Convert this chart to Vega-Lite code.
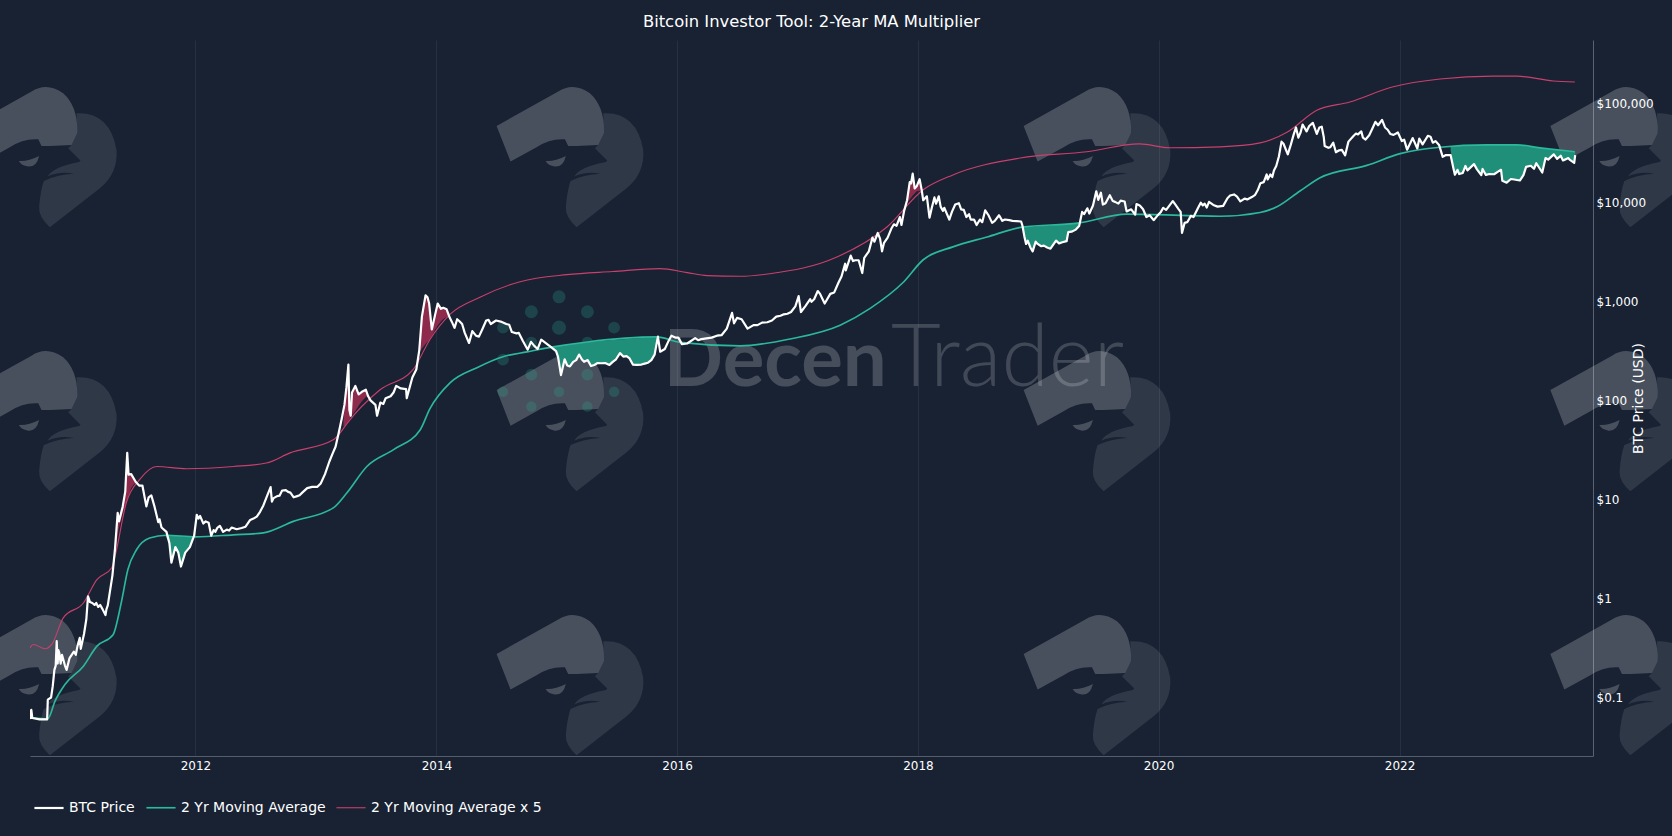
{"$schema":"https://vega.github.io/schema/vega-lite/v6.json","width":1563,"height":716,"autosize":{"type":"none"},"padding":{"left":30,"top":40,"right":79,"bottom":80},"background":"#182233",
"title":{"text":"Bitcoin Investor Tool: 2-Year MA Multiplier","color":"#ffffff","font":"DejaVu Sans","fontSize":16.4,"fontWeight":"normal","anchor":"middle","offset":10},
"config":{"view":{"stroke":null},"font":"DejaVu Sans"},
"datasets":{
"logos":[{"date":"2010-09-26","value":28970},{"date":"2015-02-10","value":28970},{"date":"2019-06-28","value":28970},{"date":"2023-11-12","value":28970},{"date":"2010-09-26","value":62.4},{"date":"2015-02-10","value":62.4},{"date":"2019-06-28","value":62.4},{"date":"2023-11-12","value":62.4},{"date":"2010-09-26","value":0.135},{"date":"2015-02-10","value":0.135},{"date":"2019-06-28","value":0.135},{"date":"2023-11-12","value":0.135}],
"dots":[{"date":"2015-01-08","value":1112,"tier":"b"},{"date":"2014-10-16","value":785,"tier":"b"},{"date":"2015-04-04","value":785,"tier":"b"},{"date":"2015-01-08","value":542,"tier":"a"},{"date":"2015-06-24","value":542,"tier":"c"},{"date":"2014-07-22","value":542,"tier":"c"},{"date":"2015-04-04","value":382,"tier":"c"},{"date":"2014-10-16","value":382,"tier":"c"},{"date":"2014-07-22","value":258,"tier":"c"},{"date":"2014-10-16","value":182,"tier":"c"},{"date":"2015-04-04","value":182,"tier":"c"},{"date":"2014-07-22","value":122,"tier":"d"},{"date":"2015-01-08","value":122,"tier":"d"},{"date":"2015-06-24","value":122,"tier":"d"},{"date":"2014-10-16","value":86.5,"tier":"d"},{"date":"2015-04-04","value":86.5,"tier":"d"}],
"ma":[{"date":"2010-08-27","value":0.0624},{"date":"2010-10-10","value":0.061},{"date":"2010-11-01","value":0.092},{"date":"2010-12-01","value":0.135},{"date":"2011-01-26","value":0.207},{"date":"2011-03-08","value":0.33},{"date":"2011-04-26","value":0.43},{"date":"2011-05-21","value":0.91},{"date":"2011-06-10","value":1.96},{"date":"2011-07-06","value":3.1},{"date":"2011-08-15","value":4.08},{"date":"2011-10-05","value":4.35},{"date":"2012-01-01","value":4.19},{"date":"2012-04-25","value":4.39},{"date":"2012-07-25","value":4.59},{"date":"2012-10-24","value":6.0},{"date":"2013-02-22","value":8.2},{"date":"2013-04-04","value":11.6},{"date":"2013-06-04","value":21.5},{"date":"2013-08-24","value":31.8},{"date":"2013-11-13","value":50.6},{"date":"2013-12-12","value":82},{"date":"2014-02-12","value":151},{"date":"2014-05-04","value":214},{"date":"2014-07-22","value":276},{"date":"2014-10-03","value":309},{"date":"2014-12-21","value":347},{"date":"2015-04-04","value":389},{"date":"2015-10-31","value":437},{"date":"2016-01-10","value":385},{"date":"2016-07-10","value":355},{"date":"2016-12-09","value":417},{"date":"2017-05-10","value":575},{"date":"2017-08-09","value":850},{"date":"2017-11-16","value":1540},{"date":"2018-01-17","value":2630},{"date":"2018-04-17","value":3550},{"date":"2018-07-30","value":4470},{"date":"2018-11-13","value":5620},{"date":"2019-05-01","value":6170},{"date":"2019-09-27","value":7590},{"date":"2020-07-06","value":7240},{"date":"2020-11-04","value":7900},{"date":"2020-12-25","value":9000},{"date":"2021-03-05","value":13000},{"date":"2021-05-05","value":17700},{"date":"2021-09-24","value":23600},{"date":"2022-01-03","value":31000},{"date":"2022-05-04","value":36000},{"date":"2022-09-23","value":38000},{"date":"2022-12-23","value":38000},{"date":"2023-03-03","value":35500},{"date":"2023-06-17","value":32400}],
"ma5":[{"date":"2010-08-17","value":0.317},{"date":"2010-08-27","value":0.343},{"date":"2010-10-02","value":0.31},{"date":"2010-10-22","value":0.343},{"date":"2010-11-26","value":0.637},{"date":"2011-01-26","value":0.9},{"date":"2011-03-08","value":1.55},{"date":"2011-04-22","value":2.04},{"date":"2011-05-02","value":2.67},{"date":"2011-06-05","value":9.2},{"date":"2011-07-16","value":15.9},{"date":"2011-09-06","value":21.5},{"date":"2011-12-05","value":20.4},{"date":"2012-04-25","value":21.5},{"date":"2012-08-03","value":23.3},{"date":"2012-10-14","value":29.5},{"date":"2013-02-22","value":40},{"date":"2013-03-15","value":47},{"date":"2013-04-04","value":58},{"date":"2013-07-14","value":128},{"date":"2013-10-22","value":204},{"date":"2013-12-12","value":410},{"date":"2014-02-12","value":743},{"date":"2014-05-13","value":1100},{"date":"2014-09-12","value":1580},{"date":"2015-02-01","value":1860},{"date":"2015-06-20","value":2000},{"date":"2015-11-10","value":2140},{"date":"2016-02-01","value":1950},{"date":"2016-04-01","value":1820},{"date":"2016-07-10","value":1790},{"date":"2016-10-08","value":1900},{"date":"2017-04-30","value":2800},{"date":"2017-09-28","value":5600},{"date":"2018-01-17","value":13400},{"date":"2018-04-17","value":18900},{"date":"2018-11-07","value":28000},{"date":"2019-05-28","value":32400},{"date":"2019-11-04","value":38900},{"date":"2020-02-04","value":35500},{"date":"2020-07-06","value":36300},{"date":"2020-11-04","value":39800},{"date":"2021-01-26","value":51300},{"date":"2021-04-25","value":85000},{"date":"2021-08-03","value":103000},{"date":"2021-12-10","value":146000},{"date":"2022-05-04","value":176000},{"date":"2022-10-12","value":188000},{"date":"2022-12-23","value":188000},{"date":"2023-04-12","value":168000},{"date":"2023-06-17","value":164000}],
"price":[{"date":"2010-08-17","value":0.075},{"date":"2010-08-19","value":0.062},{"date":"2010-08-21","value":0.075},{"date":"2010-08-24","value":0.062},{"date":"2010-09-15","value":0.06},{"date":"2010-10-08","value":0.06},{"date":"2010-10-10","value":0.095},{"date":"2010-10-20","value":0.1},{"date":"2010-10-25","value":0.13},{"date":"2010-10-30","value":0.19},{"date":"2010-11-03","value":0.21},{"date":"2010-11-06","value":0.37},{"date":"2010-11-09","value":0.22},{"date":"2010-11-11","value":0.3},{"date":"2010-11-14","value":0.28},{"date":"2010-11-18","value":0.22},{"date":"2010-11-22","value":0.27},{"date":"2010-12-01","value":0.21},{"date":"2010-12-06","value":0.19},{"date":"2010-12-15","value":0.25},{"date":"2010-12-28","value":0.29},{"date":"2011-01-03","value":0.27},{"date":"2011-01-08","value":0.33},{"date":"2011-01-15","value":0.4},{"date":"2011-01-18","value":0.31},{"date":"2011-01-28","value":0.44},{"date":"2011-02-04","value":0.62},{"date":"2011-02-09","value":1.05},{"date":"2011-02-15","value":0.92},{"date":"2011-02-22","value":0.9},{"date":"2011-03-01","value":0.86},{"date":"2011-03-06","value":0.9},{"date":"2011-03-12","value":0.82},{"date":"2011-03-18","value":0.86},{"date":"2011-03-25","value":0.78},{"date":"2011-04-03","value":0.68},{"date":"2011-04-06","value":0.78},{"date":"2011-04-10","value":0.85},{"date":"2011-04-24","value":1.7},{"date":"2011-05-02","value":3.2},{"date":"2011-05-10","value":7.3},{"date":"2011-05-14","value":6.0},{"date":"2011-05-25","value":8.4},{"date":"2011-06-02","value":12},{"date":"2011-06-08","value":29.5},{"date":"2011-06-12","value":17.8},{"date":"2011-06-20","value":18},{"date":"2011-07-04","value":15},{"date":"2011-07-14","value":13.8},{"date":"2011-07-24","value":13.8},{"date":"2011-08-05","value":8.5},{"date":"2011-08-12","value":10.5},{"date":"2011-08-20","value":11},{"date":"2011-08-30","value":8.4},{"date":"2011-09-10","value":5.9},{"date":"2011-09-14","value":6.3},{"date":"2011-09-20","value":5.2},{"date":"2011-10-05","value":4.7},{"date":"2011-10-14","value":3.6},{"date":"2011-10-20","value":2.3},{"date":"2011-11-01","value":3.3},{"date":"2011-11-10","value":2.9},{"date":"2011-11-18","value":2.1},{"date":"2011-12-01","value":2.9},{"date":"2011-12-15","value":3.3},{"date":"2011-12-28","value":4.3},{"date":"2012-01-05","value":7},{"date":"2012-01-10","value":6.4},{"date":"2012-01-15","value":6.8},{"date":"2012-01-25","value":5.7},{"date":"2012-02-01","value":6},{"date":"2012-02-10","value":5.8},{"date":"2012-02-18","value":4.3},{"date":"2012-02-25","value":4.9},{"date":"2012-03-01","value":4.7},{"date":"2012-03-08","value":5.2},{"date":"2012-03-15","value":5.4},{"date":"2012-03-25","value":4.7},{"date":"2012-04-05","value":4.95},{"date":"2012-04-12","value":4.85},{"date":"2012-04-20","value":5.2},{"date":"2012-05-05","value":5.0},{"date":"2012-05-20","value":5.15},{"date":"2012-06-01","value":5.3},{"date":"2012-06-15","value":6.2},{"date":"2012-06-25","value":6.4},{"date":"2012-07-05","value":6.7},{"date":"2012-07-15","value":7.5},{"date":"2012-07-25","value":8.7},{"date":"2012-08-05","value":10.8},{"date":"2012-08-16","value":13.3},{"date":"2012-08-20","value":9.5},{"date":"2012-08-25","value":10.3},{"date":"2012-09-05","value":10.8},{"date":"2012-09-12","value":10.9},{"date":"2012-09-20","value":12.3},{"date":"2012-10-01","value":12.4},{"date":"2012-10-08","value":11.9},{"date":"2012-10-15","value":11.7},{"date":"2012-10-25","value":10.5},{"date":"2012-11-05","value":10.8},{"date":"2012-11-12","value":11},{"date":"2012-11-20","value":11.7},{"date":"2012-12-05","value":13.0},{"date":"2012-12-20","value":13.4},{"date":"2013-01-05","value":13.4},{"date":"2013-01-15","value":14.5},{"date":"2013-01-28","value":18},{"date":"2013-02-10","value":24},{"date":"2013-02-20","value":29},{"date":"2013-03-01","value":34},{"date":"2013-03-10","value":46},{"date":"2013-03-20","value":66},{"date":"2013-03-28","value":90},{"date":"2013-04-03","value":135},{"date":"2013-04-09","value":230},{"date":"2013-04-12","value":80},{"date":"2013-04-16","value":70},{"date":"2013-04-20","value":120},{"date":"2013-04-30","value":140},{"date":"2013-05-10","value":115},{"date":"2013-05-20","value":122},{"date":"2013-06-01","value":128},{"date":"2013-06-08","value":110},{"date":"2013-06-15","value":100},{"date":"2013-06-30","value":90},{"date":"2013-07-05","value":70},{"date":"2013-07-15","value":95},{"date":"2013-07-24","value":92},{"date":"2013-07-31","value":105},{"date":"2013-08-15","value":110},{"date":"2013-08-24","value":120},{"date":"2013-09-01","value":140},{"date":"2013-09-15","value":132},{"date":"2013-10-01","value":130},{"date":"2013-10-03","value":105},{"date":"2013-10-20","value":170},{"date":"2013-11-01","value":205},{"date":"2013-11-10","value":320},{"date":"2013-11-18","value":700},{"date":"2013-11-29","value":1150},{"date":"2013-12-05","value":1100},{"date":"2013-12-10","value":950},{"date":"2013-12-18","value":520},{"date":"2013-12-28","value":730},{"date":"2014-01-05","value":950},{"date":"2014-01-15","value":840},{"date":"2014-01-22","value":860},{"date":"2014-02-01","value":830},{"date":"2014-02-10","value":690},{"date":"2014-02-17","value":620},{"date":"2014-02-25","value":540},{"date":"2014-03-05","value":660},{"date":"2014-03-12","value":630},{"date":"2014-03-20","value":590},{"date":"2014-03-28","value":480},{"date":"2014-04-10","value":380},{"date":"2014-04-20","value":500},{"date":"2014-05-01","value":450},{"date":"2014-05-10","value":440},{"date":"2014-05-20","value":520},{"date":"2014-06-01","value":640},{"date":"2014-06-08","value":650},{"date":"2014-06-15","value":590},{"date":"2014-07-01","value":640},{"date":"2014-07-15","value":625},{"date":"2014-08-01","value":590},{"date":"2014-08-10","value":580},{"date":"2014-08-18","value":490},{"date":"2014-09-01","value":475},{"date":"2014-09-08","value":480},{"date":"2014-09-20","value":400},{"date":"2014-10-05","value":325},{"date":"2014-10-15","value":390},{"date":"2014-10-25","value":355},{"date":"2014-11-04","value":330},{"date":"2014-11-15","value":410},{"date":"2014-12-01","value":375},{"date":"2014-12-15","value":345},{"date":"2014-12-30","value":315},{"date":"2015-01-05","value":275},{"date":"2015-01-14","value":180},{"date":"2015-01-25","value":260},{"date":"2015-02-02","value":225},{"date":"2015-02-10","value":220},{"date":"2015-02-20","value":245},{"date":"2015-03-01","value":255},{"date":"2015-03-10","value":290},{"date":"2015-03-18","value":260},{"date":"2015-03-25","value":245},{"date":"2015-04-05","value":255},{"date":"2015-04-15","value":222},{"date":"2015-04-25","value":228},{"date":"2015-05-05","value":238},{"date":"2015-05-15","value":237},{"date":"2015-05-28","value":238},{"date":"2015-06-10","value":228},{"date":"2015-06-20","value":245},{"date":"2015-06-30","value":260},{"date":"2015-07-12","value":300},{"date":"2015-07-22","value":277},{"date":"2015-08-01","value":280},{"date":"2015-08-10","value":265},{"date":"2015-08-20","value":230},{"date":"2015-09-01","value":228},{"date":"2015-09-15","value":230},{"date":"2015-09-25","value":235},{"date":"2015-10-05","value":240},{"date":"2015-10-15","value":255},{"date":"2015-10-25","value":290},{"date":"2015-11-04","value":440},{"date":"2015-11-11","value":310},{"date":"2015-11-25","value":330},{"date":"2015-12-05","value":390},{"date":"2015-12-15","value":450},{"date":"2015-12-28","value":430},{"date":"2016-01-05","value":430},{"date":"2016-01-16","value":370},{"date":"2016-02-01","value":375},{"date":"2016-02-25","value":425},{"date":"2016-03-05","value":405},{"date":"2016-03-15","value":415},{"date":"2016-04-15","value":430},{"date":"2016-05-01","value":450},{"date":"2016-05-15","value":455},{"date":"2016-05-31","value":530},{"date":"2016-06-16","value":765},{"date":"2016-06-22","value":600},{"date":"2016-07-01","value":680},{"date":"2016-07-15","value":660},{"date":"2016-08-02","value":530},{"date":"2016-08-20","value":575},{"date":"2016-09-01","value":575},{"date":"2016-09-15","value":610},{"date":"2016-10-01","value":615},{"date":"2016-10-15","value":640},{"date":"2016-10-28","value":700},{"date":"2016-11-10","value":715},{"date":"2016-11-20","value":740},{"date":"2016-12-01","value":750},{"date":"2016-12-12","value":780},{"date":"2016-12-25","value":890},{"date":"2017-01-04","value":1130},{"date":"2017-01-11","value":780},{"date":"2017-01-25","value":900},{"date":"2017-02-08","value":1050},{"date":"2017-02-12","value":990},{"date":"2017-02-20","value":1050},{"date":"2017-03-03","value":1270},{"date":"2017-03-10","value":1190},{"date":"2017-03-17","value":1060},{"date":"2017-03-24","value":950},{"date":"2017-04-10","value":1190},{"date":"2017-04-22","value":1230},{"date":"2017-05-05","value":1550},{"date":"2017-05-14","value":1780},{"date":"2017-05-25","value":2400},{"date":"2017-05-27","value":2050},{"date":"2017-06-11","value":2900},{"date":"2017-06-18","value":2550},{"date":"2017-06-25","value":2600},{"date":"2017-07-05","value":2600},{"date":"2017-07-16","value":1930},{"date":"2017-07-22","value":2750},{"date":"2017-08-05","value":3200},{"date":"2017-08-16","value":4400},{"date":"2017-08-22","value":4000},{"date":"2017-09-01","value":4900},{"date":"2017-09-08","value":4300},{"date":"2017-09-14","value":3200},{"date":"2017-09-20","value":3900},{"date":"2017-10-01","value":4400},{"date":"2017-10-12","value":5400},{"date":"2017-10-20","value":6000},{"date":"2017-10-28","value":5800},{"date":"2017-11-07","value":7100},{"date":"2017-11-12","value":5900},{"date":"2017-11-20","value":8200},{"date":"2017-11-29","value":10500},{"date":"2017-12-07","value":16000},{"date":"2017-12-11","value":15500},{"date":"2017-12-16","value":19500},{"date":"2017-12-22","value":13800},{"date":"2017-12-28","value":14500},{"date":"2018-01-06","value":17100},{"date":"2018-01-12","value":13500},{"date":"2018-01-17","value":10500},{"date":"2018-01-28","value":11500},{"date":"2018-02-05","value":7000},{"date":"2018-02-12","value":8800},{"date":"2018-02-20","value":11200},{"date":"2018-02-25","value":9700},{"date":"2018-03-05","value":11500},{"date":"2018-03-11","value":9000},{"date":"2018-03-18","value":8200},{"date":"2018-03-22","value":8800},{"date":"2018-04-06","value":6700},{"date":"2018-04-14","value":8000},{"date":"2018-04-24","value":9500},{"date":"2018-05-05","value":9800},{"date":"2018-05-12","value":8500},{"date":"2018-05-20","value":8400},{"date":"2018-05-28","value":7100},{"date":"2018-06-05","value":7600},{"date":"2018-06-10","value":6700},{"date":"2018-06-20","value":6700},{"date":"2018-06-28","value":5900},{"date":"2018-07-08","value":6700},{"date":"2018-07-15","value":6300},{"date":"2018-07-24","value":8300},{"date":"2018-08-03","value":7400},{"date":"2018-08-14","value":6200},{"date":"2018-08-22","value":6500},{"date":"2018-09-04","value":7400},{"date":"2018-09-14","value":6500},{"date":"2018-09-22","value":6700},{"date":"2018-10-05","value":6600},{"date":"2018-10-15","value":6500},{"date":"2018-10-28","value":6450},{"date":"2018-11-10","value":6400},{"date":"2018-11-14","value":5800},{"date":"2018-11-20","value":4500},{"date":"2018-11-25","value":3800},{"date":"2018-11-30","value":4100},{"date":"2018-12-08","value":3500},{"date":"2018-12-15","value":3200},{"date":"2018-12-24","value":4000},{"date":"2018-12-30","value":3800},{"date":"2019-01-10","value":3600},{"date":"2019-01-18","value":3650},{"date":"2019-01-28","value":3500},{"date":"2019-02-07","value":3400},{"date":"2019-02-24","value":4100},{"date":"2019-03-05","value":3850},{"date":"2019-03-15","value":3950},{"date":"2019-03-28","value":4050},{"date":"2019-04-02","value":5000},{"date":"2019-04-12","value":5050},{"date":"2019-04-25","value":5300},{"date":"2019-05-05","value":5750},{"date":"2019-05-14","value":8000},{"date":"2019-05-20","value":7600},{"date":"2019-05-30","value":8700},{"date":"2019-06-05","value":7700},{"date":"2019-06-16","value":9300},{"date":"2019-06-26","value":12900},{"date":"2019-07-02","value":10600},{"date":"2019-07-10","value":12500},{"date":"2019-07-16","value":9500},{"date":"2019-07-24","value":9800},{"date":"2019-08-06","value":11800},{"date":"2019-08-15","value":10300},{"date":"2019-08-22","value":10100},{"date":"2019-09-01","value":9700},{"date":"2019-09-08","value":10400},{"date":"2019-09-20","value":10200},{"date":"2019-09-26","value":8100},{"date":"2019-10-10","value":8500},{"date":"2019-10-22","value":7500},{"date":"2019-10-26","value":9600},{"date":"2019-11-05","value":9300},{"date":"2019-11-15","value":8500},{"date":"2019-11-25","value":7100},{"date":"2019-12-05","value":7400},{"date":"2019-12-17","value":6600},{"date":"2019-12-28","value":7300},{"date":"2020-01-08","value":8000},{"date":"2020-01-15","value":8800},{"date":"2020-01-24","value":8400},{"date":"2020-02-13","value":10300},{"date":"2020-02-20","value":9600},{"date":"2020-03-01","value":8600},{"date":"2020-03-08","value":8000},{"date":"2020-03-12","value":4900},{"date":"2020-03-20","value":6200},{"date":"2020-03-28","value":6300},{"date":"2020-04-08","value":7300},{"date":"2020-04-16","value":7100},{"date":"2020-04-30","value":8800},{"date":"2020-05-08","value":9900},{"date":"2020-05-14","value":9300},{"date":"2020-05-20","value":9700},{"date":"2020-05-26","value":8850},{"date":"2020-06-02","value":10100},{"date":"2020-06-15","value":9400},{"date":"2020-06-28","value":9050},{"date":"2020-07-15","value":9200},{"date":"2020-07-28","value":11000},{"date":"2020-08-05","value":11700},{"date":"2020-08-17","value":12000},{"date":"2020-08-26","value":11400},{"date":"2020-09-05","value":10200},{"date":"2020-09-18","value":10900},{"date":"2020-09-26","value":10700},{"date":"2020-10-10","value":11300},{"date":"2020-10-20","value":11900},{"date":"2020-10-28","value":13300},{"date":"2020-11-05","value":15600},{"date":"2020-11-15","value":16000},{"date":"2020-11-24","value":19100},{"date":"2020-11-27","value":17000},{"date":"2020-12-05","value":19100},{"date":"2020-12-11","value":18000},{"date":"2020-12-16","value":21000},{"date":"2020-12-23","value":23300},{"date":"2020-12-31","value":29000},{"date":"2021-01-08","value":41000},{"date":"2021-01-14","value":39000},{"date":"2021-01-27","value":30500},{"date":"2021-02-05","value":38000},{"date":"2021-02-14","value":48500},{"date":"2021-02-21","value":57000},{"date":"2021-02-28","value":45000},{"date":"2021-03-07","value":51000},{"date":"2021-03-13","value":61000},{"date":"2021-03-25","value":52000},{"date":"2021-04-02","value":59000},{"date":"2021-04-13","value":63500},{"date":"2021-04-25","value":49000},{"date":"2021-05-03","value":57000},{"date":"2021-05-10","value":58000},{"date":"2021-05-16","value":46000},{"date":"2021-05-19","value":37000},{"date":"2021-05-30","value":35500},{"date":"2021-06-05","value":36000},{"date":"2021-06-14","value":40000},{"date":"2021-06-22","value":32000},{"date":"2021-07-02","value":33500},{"date":"2021-07-10","value":33800},{"date":"2021-07-20","value":29800},{"date":"2021-07-30","value":41000},{"date":"2021-08-15","value":47000},{"date":"2021-08-22","value":49500},{"date":"2021-08-28","value":48500},{"date":"2021-09-07","value":52000},{"date":"2021-09-12","value":45000},{"date":"2021-09-20","value":43000},{"date":"2021-10-01","value":47500},{"date":"2021-10-10","value":55000},{"date":"2021-10-20","value":65000},{"date":"2021-10-28","value":60000},{"date":"2021-11-09","value":68000},{"date":"2021-11-18","value":57000},{"date":"2021-11-26","value":54000},{"date":"2021-12-04","value":49000},{"date":"2021-12-14","value":48000},{"date":"2021-12-27","value":50700},{"date":"2022-01-08","value":41500},{"date":"2022-01-15","value":43000},{"date":"2022-01-24","value":34000},{"date":"2022-02-10","value":44500},{"date":"2022-02-24","value":35000},{"date":"2022-03-02","value":44000},{"date":"2022-03-12","value":38500},{"date":"2022-03-28","value":47000},{"date":"2022-04-05","value":46000},{"date":"2022-04-12","value":40000},{"date":"2022-04-20","value":41500},{"date":"2022-05-01","value":38000},{"date":"2022-05-12","value":28800},{"date":"2022-05-22","value":30000},{"date":"2022-06-05","value":30000},{"date":"2022-06-13","value":22500},{"date":"2022-06-18","value":19000},{"date":"2022-06-26","value":21300},{"date":"2022-07-01","value":19300},{"date":"2022-07-12","value":19800},{"date":"2022-07-20","value":23300},{"date":"2022-07-26","value":21000},{"date":"2022-08-15","value":24300},{"date":"2022-08-24","value":21500},{"date":"2022-09-06","value":18800},{"date":"2022-09-10","value":21700},{"date":"2022-09-20","value":18900},{"date":"2022-10-01","value":19300},{"date":"2022-10-15","value":19200},{"date":"2022-10-28","value":20500},{"date":"2022-11-05","value":21300},{"date":"2022-11-09","value":16500},{"date":"2022-11-22","value":15800},{"date":"2022-12-05","value":17200},{"date":"2022-12-15","value":17000},{"date":"2023-01-01","value":16600},{"date":"2023-01-12","value":18800},{"date":"2023-01-20","value":22800},{"date":"2023-02-03","value":23400},{"date":"2023-02-13","value":21800},{"date":"2023-02-20","value":24800},{"date":"2023-03-10","value":20000},{"date":"2023-03-20","value":28000},{"date":"2023-03-28","value":27000},{"date":"2023-04-14","value":30500},{"date":"2023-04-24","value":27500},{"date":"2023-05-05","value":29500},{"date":"2023-05-12","value":26500},{"date":"2023-05-28","value":28000},{"date":"2023-06-01","value":27000},{"date":"2023-06-15","value":25000},{"date":"2023-06-18","value":30000}],
"over":[{"date":"2011-05-02","value":3.2,"level":2.67,"episode":"a"},{"date":"2011-05-10","value":7.3,"level":4.4,"episode":"a"},{"date":"2011-05-14","value":6.0,"level":5.2,"episode":"a"},{"date":"2011-05-25","value":8.4,"level":7.2,"episode":"a"},{"date":"2011-06-02","value":12,"level":8.8,"episode":"a"},{"date":"2011-06-08","value":29.5,"level":10,"episode":"a"},{"date":"2011-06-12","value":17.8,"level":11,"episode":"a"},{"date":"2011-06-20","value":18,"level":13,"episode":"a"},{"date":"2011-07-04","value":15,"level":15,"episode":"a"},{"date":"2013-03-25","value":62,"level":54,"episode":"b"},{"date":"2013-04-03","value":135,"level":58,"episode":"b"},{"date":"2013-04-09","value":230,"level":62,"episode":"b"},{"date":"2013-04-12","value":80,"level":64,"episode":"b"},{"date":"2013-04-16","value":70,"level":68,"episode":"b"},{"date":"2013-04-20","value":120,"level":71,"episode":"b"},{"date":"2013-04-30","value":140,"level":78,"episode":"b"},{"date":"2013-05-10","value":115,"level":88,"episode":"b"},{"date":"2013-05-20","value":122,"level":98,"episode":"b"},{"date":"2013-06-01","value":128,"level":108,"episode":"b"},{"date":"2013-06-08","value":112,"level":112,"episode":"b"},{"date":"2013-11-05","value":280,"level":280,"episode":"c"},{"date":"2013-11-10","value":320,"level":305,"episode":"c"},{"date":"2013-11-18","value":700,"level":335,"episode":"c"},{"date":"2013-11-29","value":1150,"level":370,"episode":"c"},{"date":"2013-12-05","value":1100,"level":390,"episode":"c"},{"date":"2013-12-10","value":950,"level":405,"episode":"c"},{"date":"2013-12-18","value":520,"level":445,"episode":"c"},{"date":"2013-12-28","value":730,"level":520,"episode":"c"},{"date":"2014-01-05","value":950,"level":570,"episode":"c"},{"date":"2014-01-15","value":840,"level":630,"episode":"c"},{"date":"2014-01-22","value":860,"level":665,"episode":"c"},{"date":"2014-02-01","value":830,"level":700,"episode":"c"},{"date":"2014-02-10","value":735,"level":735,"episode":"c"},{"date":"2017-11-29","value":10000,"level":10000,"episode":"d"},{"date":"2017-12-07","value":16000,"level":10700,"episode":"d"},{"date":"2017-12-11","value":15500,"level":11100,"episode":"d"},{"date":"2017-12-16","value":19500,"level":11700,"episode":"d"},{"date":"2017-12-22","value":13800,"level":12300,"episode":"d"},{"date":"2017-12-28","value":14500,"level":12900,"episode":"d"},{"date":"2018-01-06","value":17100,"level":13100,"episode":"d"},{"date":"2018-01-12","value":13400,"level":13400,"episode":"d"}],
"under":[{"date":"2011-10-01","value":4.35,"level":4.35,"episode":"a"},{"date":"2011-10-14","value":3.6,"level":4.33,"episode":"a"},{"date":"2011-10-20","value":2.3,"level":4.32,"episode":"a"},{"date":"2011-11-01","value":3.3,"level":4.3,"episode":"a"},{"date":"2011-11-10","value":2.9,"level":4.28,"episode":"a"},{"date":"2011-11-18","value":2.1,"level":4.26,"episode":"a"},{"date":"2011-12-01","value":2.9,"level":4.23,"episode":"a"},{"date":"2011-12-15","value":3.3,"level":4.21,"episode":"a"},{"date":"2011-12-28","value":4.2,"level":4.2,"episode":"a"},{"date":"2014-12-15","value":345,"level":345,"episode":"b"},{"date":"2014-12-30","value":315,"level":350,"episode":"b"},{"date":"2015-01-05","value":275,"level":353,"episode":"b"},{"date":"2015-01-14","value":180,"level":358,"episode":"b"},{"date":"2015-01-25","value":260,"level":362,"episode":"b"},{"date":"2015-02-02","value":225,"level":365,"episode":"b"},{"date":"2015-02-10","value":220,"level":368,"episode":"b"},{"date":"2015-02-20","value":245,"level":372,"episode":"b"},{"date":"2015-03-01","value":255,"level":376,"episode":"b"},{"date":"2015-03-10","value":290,"level":380,"episode":"b"},{"date":"2015-03-18","value":260,"level":383,"episode":"b"},{"date":"2015-03-25","value":245,"level":386,"episode":"b"},{"date":"2015-04-05","value":255,"level":389,"episode":"b"},{"date":"2015-04-15","value":222,"level":391,"episode":"b"},{"date":"2015-04-25","value":228,"level":393,"episode":"b"},{"date":"2015-05-05","value":238,"level":396,"episode":"b"},{"date":"2015-05-15","value":237,"level":398,"episode":"b"},{"date":"2015-05-28","value":238,"level":401,"episode":"b"},{"date":"2015-06-10","value":228,"level":404,"episode":"b"},{"date":"2015-06-20","value":245,"level":407,"episode":"b"},{"date":"2015-06-30","value":260,"level":409,"episode":"b"},{"date":"2015-07-12","value":300,"level":412,"episode":"b"},{"date":"2015-07-22","value":277,"level":415,"episode":"b"},{"date":"2015-08-01","value":280,"level":417,"episode":"b"},{"date":"2015-08-10","value":265,"level":419,"episode":"b"},{"date":"2015-08-20","value":230,"level":421,"episode":"b"},{"date":"2015-09-01","value":228,"level":424,"episode":"b"},{"date":"2015-09-15","value":230,"level":427,"episode":"b"},{"date":"2015-09-25","value":235,"level":429,"episode":"b"},{"date":"2015-10-05","value":240,"level":431,"episode":"b"},{"date":"2015-10-15","value":255,"level":434,"episode":"b"},{"date":"2015-10-25","value":290,"level":436,"episode":"b"},{"date":"2015-11-02","value":430,"level":430,"episode":"b"},{"date":"2018-11-13","value":5620,"level":5620,"episode":"c"},{"date":"2018-11-14","value":5600,"level":5620,"episode":"c"},{"date":"2018-11-20","value":4500,"level":5630,"episode":"c"},{"date":"2018-11-25","value":3800,"level":5640,"episode":"c"},{"date":"2018-11-30","value":4100,"level":5650,"episode":"c"},{"date":"2018-12-08","value":3500,"level":5670,"episode":"c"},{"date":"2018-12-15","value":3200,"level":5680,"episode":"c"},{"date":"2018-12-24","value":4000,"level":5700,"episode":"c"},{"date":"2018-12-30","value":3800,"level":5730,"episode":"c"},{"date":"2019-01-10","value":3600,"level":5760,"episode":"c"},{"date":"2019-01-18","value":3650,"level":5790,"episode":"c"},{"date":"2019-01-28","value":3500,"level":5820,"episode":"c"},{"date":"2019-02-07","value":3400,"level":5860,"episode":"c"},{"date":"2019-02-24","value":4100,"level":5920,"episode":"c"},{"date":"2019-03-05","value":3850,"level":5950,"episode":"c"},{"date":"2019-03-15","value":3950,"level":5990,"episode":"c"},{"date":"2019-03-28","value":4050,"level":6030,"episode":"c"},{"date":"2019-04-02","value":5000,"level":6050,"episode":"c"},{"date":"2019-04-12","value":5050,"level":6100,"episode":"c"},{"date":"2019-04-25","value":5300,"level":6150,"episode":"c"},{"date":"2019-05-05","value":5750,"level":6180,"episode":"c"},{"date":"2019-05-08","value":6200,"level":6200,"episode":"c"},{"date":"2022-06-05","value":33800,"level":36800,"episode":"d"},{"date":"2022-06-13","value":22500,"level":36900,"episode":"d"},{"date":"2022-06-18","value":19000,"level":37000,"episode":"d"},{"date":"2022-06-26","value":21300,"level":37100,"episode":"d"},{"date":"2022-07-01","value":19300,"level":37200,"episode":"d"},{"date":"2022-07-12","value":19800,"level":37400,"episode":"d"},{"date":"2022-07-20","value":23300,"level":37500,"episode":"d"},{"date":"2022-07-26","value":21000,"level":37600,"episode":"d"},{"date":"2022-08-15","value":24300,"level":37700,"episode":"d"},{"date":"2022-08-24","value":21500,"level":37800,"episode":"d"},{"date":"2022-09-06","value":18800,"level":37900,"episode":"d"},{"date":"2022-09-10","value":21700,"level":37900,"episode":"d"},{"date":"2022-09-20","value":18900,"level":38000,"episode":"d"},{"date":"2022-10-01","value":19300,"level":38000,"episode":"d"},{"date":"2022-10-15","value":19200,"level":38000,"episode":"d"},{"date":"2022-10-28","value":20500,"level":38000,"episode":"d"},{"date":"2022-11-05","value":21300,"level":38000,"episode":"d"},{"date":"2022-11-09","value":16500,"level":38000,"episode":"d"},{"date":"2022-11-22","value":15800,"level":38000,"episode":"d"},{"date":"2022-12-05","value":17200,"level":38000,"episode":"d"},{"date":"2022-12-15","value":17000,"level":38000,"episode":"d"},{"date":"2023-01-01","value":16600,"level":37600,"episode":"d"},{"date":"2023-01-12","value":18800,"level":37300,"episode":"d"},{"date":"2023-01-20","value":22800,"level":36900,"episode":"d"},{"date":"2023-02-03","value":23400,"level":36500,"episode":"d"},{"date":"2023-02-13","value":21800,"level":36100,"episode":"d"},{"date":"2023-02-20","value":24800,"level":35900,"episode":"d"},{"date":"2023-03-10","value":20000,"level":35300,"episode":"d"},{"date":"2023-03-20","value":28000,"level":34900,"episode":"d"},{"date":"2023-03-28","value":27000,"level":34600,"episode":"d"},{"date":"2023-04-14","value":30500,"level":34000,"episode":"d"},{"date":"2023-04-24","value":27500,"level":33700,"episode":"d"},{"date":"2023-05-05","value":29500,"level":33500,"episode":"d"},{"date":"2023-05-12","value":26500,"level":33300,"episode":"d"},{"date":"2023-05-28","value":28000,"level":33000,"episode":"d"},{"date":"2023-06-01","value":27000,"level":32800,"episode":"d"},{"date":"2023-06-15","value":25000,"level":32450,"episode":"d"},{"date":"2023-06-18","value":30000,"level":32400,"episode":"d"}]
},
"encoding":{
"x":{"field":"date","type":"temporal","title":null,"scale":{"domain":["2010-08-17","2023-08-11"]},"axis":{"orient":"bottom","tickCount":{"interval":"year","step":2},"format":"%Y","labelColor":"#ffffff","labelFontSize":12,"labelPadding":4,"labelFont":"DejaVu Sans","ticks":false,"grid":true,"gridColor":"#263044","gridWidth":1,"domainColor":"#545d6c","domainWidth":1}},
"y":{"field":"value","type":"quantitative","title":"BTC Price (USD)","scale":{"type":"log","domain":[0.02564,435500]},"axis":{"orient":"right","values":[0.1,1,10,100,1000,10000,100000],"labelExpr":"'$' + format(datum.value, datum.value < 1 ? '.1f' : ',d')","labelColor":"#ffffff","labelFontSize":12,"labelPadding":3,"labelFont":"DejaVu Sans","ticks":false,"grid":false,"domainColor":"#596273","domainWidth":1,"titleColor":"#ffffff","titleFontSize":14,"titleFontWeight":"normal","titleFont":"DejaVu Sans","titleAngle":270,"titlePadding":-8}}
},
"layer":[
{"data":{"name":"logos"},"mark":{"type":"point","filled":true,"clip":false,"fill":"#ffffff","fillOpacity":0.1,"strokeWidth":0,"size":21500,"shape":"M0.455,-0.591 Q0.909,-0.614 1,-0.091 Q1.023,0.227 0.773,0.432 L0.091,0.964 Q-0.068,0.818 -0.055,0.682 Q-0.036,0.455 0.009,0.332 Q0.182,0.25 0.418,0.236 Q0.227,0.195 0.059,0.273 Q0.136,0.136 0.491,0.073 L0.509,0.055 L0.341,-0.114 L0.386,-0.159 L0.464,-0.318 Z"}},
{"data":{"name":"logos"},"mark":{"type":"point","filled":true,"clip":false,"fill":"#ffffff","fillOpacity":0.21,"strokeWidth":0,"size":21500,"shape":"M-1,-0.418 L-0.159,-0.886 Q0.045,-1.023 0.273,-0.864 Q0.477,-0.682 0.464,-0.318 L0.386,-0.159 L0.091,-0.145 L-0.023,-0.145 L-0.068,-0.236 Q-0.273,-0.25 -0.455,-0.127 L-0.809,0.068 Z M-0.332,0.059 Q-0.205,0.068 -0.055,-0.009 Q-0.091,0.145 -0.205,0.136 Q-0.3,0.12 -0.332,0.059 Z"}},
{"data":{"name":"dots"},"mark":{"type":"circle","fill":"#2aa88f","fillOpacity":0.26},"encoding":{"size":{"field":"tier","type":"nominal","legend":null,"scale":{"domain":["a","b","c","d"],"range":[200,110,70,40]}}}},
{"data":{"values":[{"date":"2015-11-22","value":140.6,"word":"Decen"}]},"mark":{"type":"text","align":"left","baseline":"alphabetic","font":"Lato","fontSize":78,"fontWeight":"bold","fill":"#ffffff","fillOpacity":0.2},"encoding":{"text":{"field":"word"}}},
{"data":{"values":[{"date":"2017-10-11","value":140.6,"word":"Trader"}]},"mark":{"type":"text","align":"left","baseline":"alphabetic","font":"Lato","fontSize":86,"fontWeight":300,"fill":"#ffffff","fillOpacity":0.18},"encoding":{"text":{"field":"word"}}},
{"data":{"name":"over"},"mark":{"type":"area","color":"#8e2b4d"},"encoding":{"y2":{"field":"level"},"detail":{"field":"episode"}}},
{"data":{"name":"under"},"mark":{"type":"area","color":"#1f8f79"},"encoding":{"y2":{"field":"level"},"detail":{"field":"episode"}}},
{"data":{"name":"ma"},"mark":{"type":"line","interpolate":"monotone","clip":true},"encoding":{"color":{"datum":"2 Yr Moving Average"},"strokeWidth":{"datum":"2 Yr Moving Average"}}},
{"data":{"name":"ma5"},"mark":{"type":"line","interpolate":"monotone","clip":true},"encoding":{"color":{"datum":"2 Yr Moving Average x 5"},"strokeWidth":{"datum":"2 Yr Moving Average x 5"}}},
{"data":{"name":"price"},"mark":{"type":"line","clip":true,"strokeJoin":"round"},"encoding":{"color":{"datum":"BTC Price","title":null,"scale":{"domain":["BTC Price","2 Yr Moving Average","2 Yr Moving Average x 5"],"range":["#ffffff","#2cb89c","#c9406c"]},"legend":{"orient":"none","legendX":3,"legendY":752,"direction":"horizontal","columns":3,"title":null,"symbolType":"stroke","symbolSize":850,"labelColor":"#ffffff","labelFontSize":14,"labelFont":"DejaVu Sans","labelLimit":300,"columnPadding":8}},"strokeWidth":{"datum":"BTC Price","title":null,"scale":{"domain":["BTC Price","2 Yr Moving Average","2 Yr Moving Average x 5"],"range":[2.2,1.1,1.1]}}}}
]}
